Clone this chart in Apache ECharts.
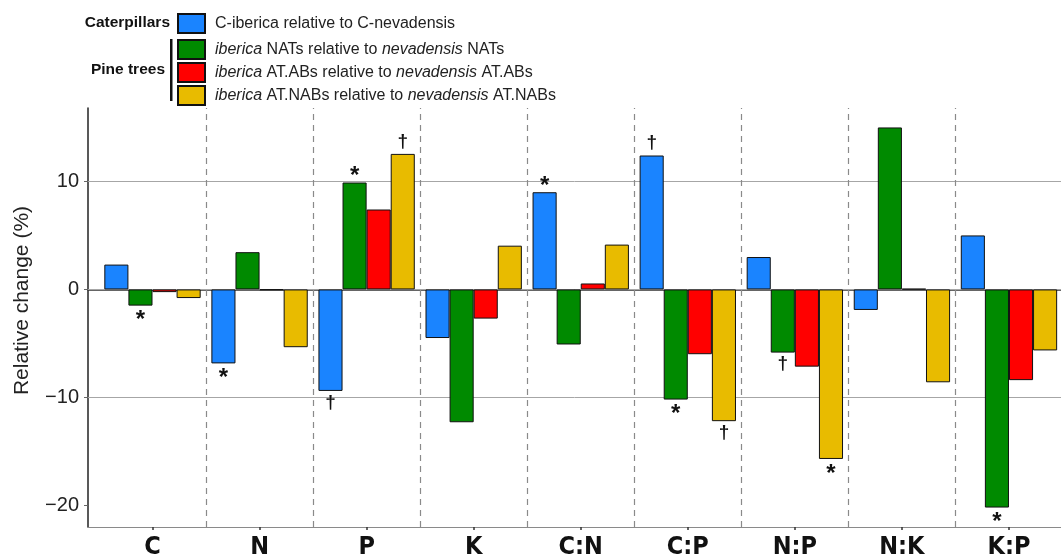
<!DOCTYPE html>
<html>
<head>
<meta charset="utf-8">
<script src="https://cdn.jsdelivr.net/npm/echarts@6/dist/echarts.min.js"></script>
<style>html,body{margin:0;padding:0;background:#fff;}#chart{width:1061px;height:560px;}</style>
</head>
<body>
<div id="chart"></div>
<script>
// ---- data ----
const categories = ['C', 'N', 'P', 'K', 'C:N', 'C:P', 'N:P', 'N:K', 'K:P'];
const seriesNames = [
  'C-iberica relative to C-nevadensis',
  'iberica NATs relative to nevadensis NATs',
  'iberica AT.ABs relative to nevadensis AT.ABs',
  'iberica AT.NABs relative to nevadensis AT.NABs'
];
const caterpillars = [2.3, -6.85, -9.4, -4.5, 9.0, 12.4, 3.0, -1.9, 5.0];
const nats = [-1.5, 3.45, 9.9, -12.3, -5.1, -10.2, -5.85, 15.0, -20.2];
const atabs = [-0.25, -0.05, 7.4, -2.7, 0.55, -6.0, -7.15, 0.05, -8.4];
const atnabs = [-0.8, -5.35, 12.55, 4.05, 4.15, -12.2, -15.7, -8.6, -5.65];
const caterpillarMarks = ['', '*', '†', '', '*', '†', '', '', ''];
const natMarks = ['*', '', '*', '', '', '*', '†', '', '*'];
const atabMarks = ['', '', '', '', '', '', '', '', ''];
const atnabMarks = ['', '', '†', '', '', '†', '*', '', ''];
const yTickValues = [-20, -10, 0, 10];
const yGridValues = [-10, 0, 10];
const colors = ['#1a84ff', '#008a00', '#ff0000', '#e8bb00'];

// ---- chart ----
const chart = echarts.init(document.getElementById('chart'), null, {renderer: 'canvas'});
const catPos = categories.map((c, i) => i + 1);
const sepPos = catPos.slice(0, -1).map(p => p + 0.5);
const FONT = 'Liberation Sans, Arial, sans-serif';
const X_MIN = 0.3975, X_MAX = 9.486;

function buildData(values, marks) {
  return values.map((v, i) => {
    const m = marks[i];
    const item = {value: [catPos[i], v]};
    if (m) {
      const top = v >= 0;
      const isStar = m === '*';
      item.label = {
        show: true,
        formatter: m,
        position: 'outside',
        distance: isStar ? (top ? -6 : 3) : (top ? 3 : 2),
        fontSize: isStar ? 24 : 19,
        fontWeight: 'bold',
        fontFamily: FONT,
        color: '#111'
      };
    }
    return item;
  });
}

const seriesValues = [caterpillars, nats, atabs, atnabs];
const seriesMarks = [caterpillarMarks, natMarks, atabMarks, atnabMarks];

const series = seriesValues.map((vals, k) => ({
  type: 'bar',
  name: seriesNames[k],
  data: buildData(vals, seriesMarks[k]),
  barGap: '0%',
  barCategoryGap: '10%',
  itemStyle: {color: colors[k], borderColor: '#111', borderWidth: 1},
  label: {show: false},
  emphasis: {disabled: true},
  z: 3
}));

// reference lines (grid + group separators) on their own series
series.push({
  type: 'line',
  name: 'refLines',
  data: [],
  silent: true,
  markLine: {
    z: 1,
    silent: true,
    symbol: 'none',
    label: {show: false},
    animation: false,
    data: [
      ...yGridValues.map(v => ({yAxis: v, lineStyle: {color: '#a6a6a6', width: 1, type: 'solid'}})),
      ...sepPos.map(p => ({xAxis: p, lineStyle: {color: '#8a8a8a', width: 1.2, type: [6, 5]}}))
    ]
  }
});

const richItalic = {i: {fontStyle: 'italic', fontSize: 16, color: '#222', fontFamily: FONT, lineHeight: 19}};
function legendFormatter(name) {
  return name.replace(/^iberica/, '{i|iberica}').replace(/nevadensis/, '{i|nevadensis}');
}
const legendText = {fontSize: 16, color: '#222', fontFamily: FONT, lineHeight: 19, padding: [0, 0, 0, 5]};

const option = {
  animation: false,
  backgroundColor: '#fff',
  color: colors,
  grid: {left: 88, top: 108, width: 973, bottom: 33, containLabel: false},
  legend: [
    {
      data: [seriesNames[0]],
      left: 177, top: 13, padding: 0,
      itemWidth: 27, itemHeight: 19,
      icon: 'rect',
      selectedMode: false,
      textStyle: legendText
    },
    {
      data: seriesNames.slice(1),
      orient: 'vertical',
      left: 177, top: 39, padding: 0,
      itemWidth: 27, itemHeight: 19, itemGap: 2,
      icon: 'rect',
      selectedMode: false,
      formatter: legendFormatter,
      textStyle: Object.assign({}, legendText, {rich: richItalic})
    }
  ],
  xAxis: [
    {
      type: 'value', min: X_MIN, max: X_MAX,
      axisLine: {show: true, onZero: false, lineStyle: {color: '#8a8a8a', width: 1.2}},
      axisTick: {show: true, customValues: catPos, length: 3, lineStyle: {color: '#333', width: 1.5}},
      axisLabel: {
        customValues: catPos,
        formatter: v => categories[Math.round(v) - 1] || '',
        fontSize: 25, fontWeight: 'bold', color: '#111', margin: 8,
        fontFamily: 'Liberation Sans Narrow, DejaVu Sans Condensed, Arial Narrow, sans-serif'
      },
      splitLine: {show: false}
    },
    {
      type: 'value', min: X_MIN, max: X_MAX, position: 'top',
      axisLine: {show: true, lineStyle: {color: '#333', width: 1.5}},
      axisTick: {show: false}, axisLabel: {show: false}, splitLine: {show: false}
    }
  ],
  yAxis: {
    type: 'value', min: -22, max: 16.8,
    name: 'Relative change (%)',
    nameLocation: 'middle',
    nameGap: 55,
    nameTextStyle: {fontSize: 21, color: '#222', fontFamily: FONT, padding: [0, 0, 0, 34]},
    axisLine: {show: true, onZero: false, lineStyle: {color: '#222', width: 1.5}},
    axisTick: {show: true, customValues: yTickValues, length: 4, lineStyle: {color: '#666'}},
    axisLabel: {
      customValues: yTickValues,
      formatter: v => (v < 0 ? '\u2212' + Math.abs(v) : String(v)),
      fontSize: 20, color: '#222', margin: 9,
      fontFamily: FONT
    },
    splitLine: {show: false}
  },
  graphic: [
    {type: 'text', x: 170, y: 23, style: {text: 'Caterpillars', font: 'bold 15.5px Liberation Sans, Arial, sans-serif', fill: '#111', textAlign: 'right', textVerticalAlign: 'middle'}},
    {type: 'text', x: 165, y: 70, style: {text: 'Pine trees', font: 'bold 15.5px Liberation Sans, Arial, sans-serif', fill: '#111', textAlign: 'right', textVerticalAlign: 'middle'}},
    {type: 'rect', x: 170, y: 39, shape: {width: 2.5, height: 62}, style: {fill: '#111'}}
  ],
  series: series
};
chart.setOption(option);
</script>
</body>
</html>
